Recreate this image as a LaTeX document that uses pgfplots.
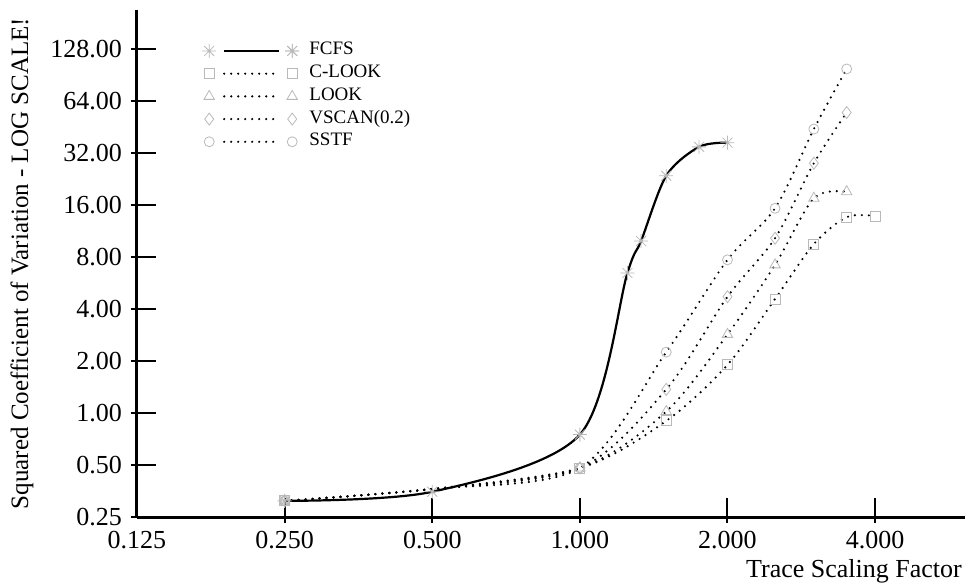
\documentclass[border=0pt]{standalone}
\usepackage{fontspec}
\setmainfont{Liberation Serif}
\usepackage{pgfplots}
\pgfplotsset{compat=1.18}

\pgfdeclareplotmark{ast8}{%
 \pgfpathmoveto{\pgfqpoint{-\pgfplotmarksize}{0pt}}\pgfpathlineto{\pgfqpoint{\pgfplotmarksize}{0pt}}%
 \pgfpathmoveto{\pgfqpoint{0pt}{-\pgfplotmarksize}}\pgfpathlineto{\pgfqpoint{0pt}{\pgfplotmarksize}}%
 \pgfpathmoveto{\pgfqpoint{-0.707\pgfplotmarksize}{-0.707\pgfplotmarksize}}\pgfpathlineto{\pgfqpoint{0.707\pgfplotmarksize}{0.707\pgfplotmarksize}}%
 \pgfpathmoveto{\pgfqpoint{-0.707\pgfplotmarksize}{0.707\pgfplotmarksize}}\pgfpathlineto{\pgfqpoint{0.707\pgfplotmarksize}{-0.707\pgfplotmarksize}}%
 \pgfusepathqstroke}

\begin{document}
\begin{tikzpicture}
\useasboundingbox (0,0) rectangle (968pt,586pt);
\begin{axis}[
  at={(137pt,69pt)}, anchor=south west,
  width=828pt, height=507pt, scale only axis,
  xmode=log, log basis x=2, ymode=log, log basis y=2,
  xmin=0.125, xmax=6.1, ymin=0.25, ymax=215,
  axis lines=left,
  axis line style={-, line width=3pt},
  tick align=inside, major tick length=19pt,
  tick style={line width=2pt, black},
  minor tick num=0,
  xtick={0.125,0.25,0.5,1,2,4},
  xticklabels={0.125,0.250,0.500,1.000,2.000,4.000},
  ytick={0.25,0.5,1,2,4,8,16,32,64,128},
  yticklabels={0.25,0.50,1.00,2.00,4.00,8.00,16.00,32.00,64.00,128.00},
  extra x ticks={0.25,0.5,1,2,4}, extra x tick labels={},
  extra x tick style={tick align=outside, major tick length=6pt},
  extra y ticks={0.25,0.5,1,2,4,8,16,32,64,128}, extra y tick labels={},
  extra y tick style={tick align=outside, major tick length=6pt},
  tick label style={font=\fontsize{26}{30}\selectfont, inner sep=0pt},
  yticklabel style={anchor=east, xshift=-15pt},
  xticklabel style={anchor=base, yshift=-31pt},
  xlabel={Trace Scaling Factor},
  ylabel={Squared Coefficient of Variation - LOG SCALE!},
  label style={font=\fontsize{26}{30}\selectfont, inner sep=0pt},
  ylabel style={font=\fontsize{25}{30}\selectfont},
  xlabel style={at={(axis description cs:1,0)}, anchor=base east, xshift=-3pt, yshift=-60pt},
  ylabel style={at={(axis description cs:-0.1389,0.5)}, anchor=center},
  legend cell align=left,
  legend style={draw=none, fill=none, inner sep=0pt, outer sep=0pt,
    anchor=north west, at={(axis description cs:0.0785,0.933)},
    font=\fontsize{19}{22}\selectfont, row sep=8.7pt, column sep=0pt,
    /tikz/every even column/.style={column sep=0pt},
    /tikz/every odd column/.style={column sep=0pt},
    nodes={inner sep=0pt, text height=11pt, text depth=3pt}},
  legend image code/.code={%
    \draw[#1,mark=none] (15pt,0pt) -- (70pt,0pt);
    \draw[#1] plot[only marks] coordinates {(0pt,0pt) (83pt,0pt) (83pt,0pt)};
    \path (-6pt,0pt) (99pt,0pt);
  },
  clip=false,
]
\addplot[black, line width=2.2pt, smooth, mark=ast8, mark size=7pt,
  mark options={solid, draw=gray!55, line width=0.8pt}]
  coordinates {(0.25,0.31) (0.5,0.35) (1.0,0.75) (1.25,6.46) (1.333,9.9) (1.5,23.6) (1.75,34.7) (2.0,36.7)};
\addlegendentry{FCFS}
\addplot[black, line width=2.4pt, line cap=round, dash pattern=on 0pt off 7pt, smooth,
  mark=square, mark size=5pt, mark indices={1,3,4,5,6,7,8,9},
  mark options={solid, draw=gray!55, line width=0.8pt}]
  coordinates {(0.25,0.31) (0.5,0.363) (1,0.48) (1.5,0.90) (2,1.9) (2.5,4.57) (3,9.5) (3.5,13.6) (4,13.8)};
\addlegendentry{C-LOOK}
\addplot[black, line width=2.4pt, line cap=round, dash pattern=on 0pt off 7pt, smooth,
  mark=triangle, mark size=6pt, mark indices={1,3,4,5,6,7,8},
  mark options={solid, draw=gray!55, line width=0.8pt}]
  coordinates {(0.25,0.31) (0.5,0.363) (1,0.48) (1.5,1.02) (2,2.85) (2.5,7.2) (3,17.5) (3.5,19.1)};
\addlegendentry{LOOK}
\addplot[black, line width=2.4pt, line cap=round, dash pattern=on 0pt off 7pt, smooth,
  mark=diamond, mark size=6pt, mark indices={1,3,4,5,6,7,8},
  mark options={solid, draw=gray!55, line width=0.8pt}]
  coordinates {(0.25,0.31) (0.5,0.363) (1,0.48) (1.5,1.37) (2,4.71) (2.5,10.27) (3,27.9) (3.5,54.8)};
\addlegendentry{VSCAN(0.2)}
\addplot[black, line width=2.4pt, line cap=round, dash pattern=on 0pt off 7pt, smooth,
  mark=o, mark size=5pt, mark indices={1,3,4,5,6,7,8},
  mark options={solid, draw=gray!55, line width=0.8pt}]
  coordinates {(0.25,0.31) (0.5,0.363) (1,0.48) (1.5,2.25) (2,7.7) (2.5,15.3) (3,44) (3.5,98)};
\addlegendentry{SSTF}
\end{axis}
\end{tikzpicture}
\end{document}
